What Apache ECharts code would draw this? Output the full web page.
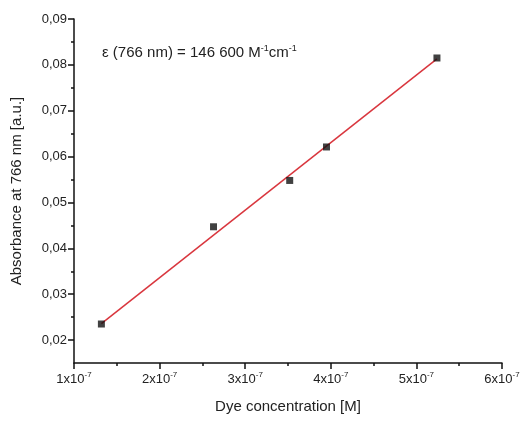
<!DOCTYPE html>
<html>
<head>
<meta charset="utf-8">
<script src="https://cdn.jsdelivr.net/npm/echarts@6/dist/echarts.min.js"></script>
<style>
  html, body { margin: 0; padding: 0; background: #fff; }
  #chart { width: 526px; height: 424px; }
</style>
</head>
<body>
<div id="chart"></div>
<script>
// measured points (concentration in M, absorbance)
var concentration = [1.32e-7, 2.63e-7, 3.52e-7, 3.95e-7, 5.24e-7];
var absorbance = [0.0235, 0.0447, 0.0548, 0.0621, 0.0815];
// linear fit ends
var fitX = [1.32e-7, 5.24e-7];
var fitY = [0.0236, 0.0813];
// tick labels
var xTicks = [1, 2, 3, 4, 5, 6];
var yTicks = [0.02, 0.03, 0.04, 0.05, 0.06, 0.07, 0.08, 0.09];
var yMinorTicks = [0.025, 0.035, 0.045, 0.055, 0.065, 0.075, 0.085];

var chart = echarts.init(document.getElementById('chart'));

var font = 'Liberation Sans, Arial, sans-serif';
var axisLine = { lineStyle: { color: '#111', width: 1.5 } };

chart.setOption({
  backgroundColor: '#fff',
  animation: false,
  grid: { left: 74, right: 24, top: 19, bottom: 61 },
  graphic: [{
    type: 'text',
    left: 102,
    top: 44,
    style: {
      text: 'ε (766 nm) = 146 600 M{s|-1}cm{s|-1}',
      font: '15px ' + font,
      fill: '#222',
      rich: {
        s: { fontSize: 9, fontFamily: font, fill: '#222', padding: [0, 0, 9, 0] }
      }
    }
  }],
  xAxis: {
    type: 'value',
    min: 1e-7,
    max: 6e-7,
    interval: 1e-7,
    name: 'Dye concentration [M]',
    nameLocation: 'middle',
    nameGap: 36,
    nameTextStyle: { fontSize: 15, fontFamily: font, color: '#222' },
    axisLine: axisLine,
    axisTick: { inside: false, length: 6, lineStyle: { color: '#111', width: 1.5 } },
    minorTick: { show: true, splitNumber: 2, length: 3, lineStyle: { color: '#111', width: 1.5 } },
    splitLine: { show: false },
    axisLabel: {
      margin: 8,
      formatter: function (v) {
        var n = Math.round(v * 1e7);
        return xTicks.indexOf(n) >= 0 ? '{a|' + n + 'x10}{s|-7}' : '';
      },
      rich: {
        a: { fontSize: 13, fontFamily: font, color: '#222' },
        s: { fontSize: 8, fontFamily: font, color: '#222', padding: [0, 0, 8, 0] }
      }
    }
  },
  yAxis: [{
    type: 'value',
    min: 0.015,
    max: 0.09,
    name: 'Absorbance at 766 nm [a.u.]',
    nameLocation: 'middle',
    nameGap: 50,
    nameTextStyle: { fontSize: 15, fontFamily: font, color: '#222' },
    axisLine: axisLine,
    axisTick: { length: 6, customValues: yTicks, lineStyle: { color: '#111', width: 1.5 } },
    axisLabel: {
      customValues: yTicks,
      margin: 7,
      fontSize: 13,
      fontFamily: font,
      color: '#222',
      formatter: function (v) { return v.toFixed(2).replace('.', ','); }
    },
    splitLine: { show: false }
  }, {
    type: 'value',
    position: 'left',
    min: 0.015,
    max: 0.09,
    axisLine: { show: false },
    axisTick: { length: 3, customValues: yMinorTicks, lineStyle: { color: '#111', width: 1.5 } },
    axisLabel: { show: false, customValues: yMinorTicks },
    splitLine: { show: false }
  }],
  series: [{
    type: 'line',
    data: fitX.map(function (x, i) { return [x, fitY[i]]; }),
    showSymbol: false,
    lineStyle: { color: '#d9363e', width: 1.5 },
    z: 2
  }, {
    type: 'scatter',
    data: concentration.map(function (x, i) { return [x, absorbance[i]]; }),
    symbol: 'rect',
    symbolSize: 7,
    itemStyle: { color: '#111' },
    z: 3
  }]
});
</script>
</body>
</html>
